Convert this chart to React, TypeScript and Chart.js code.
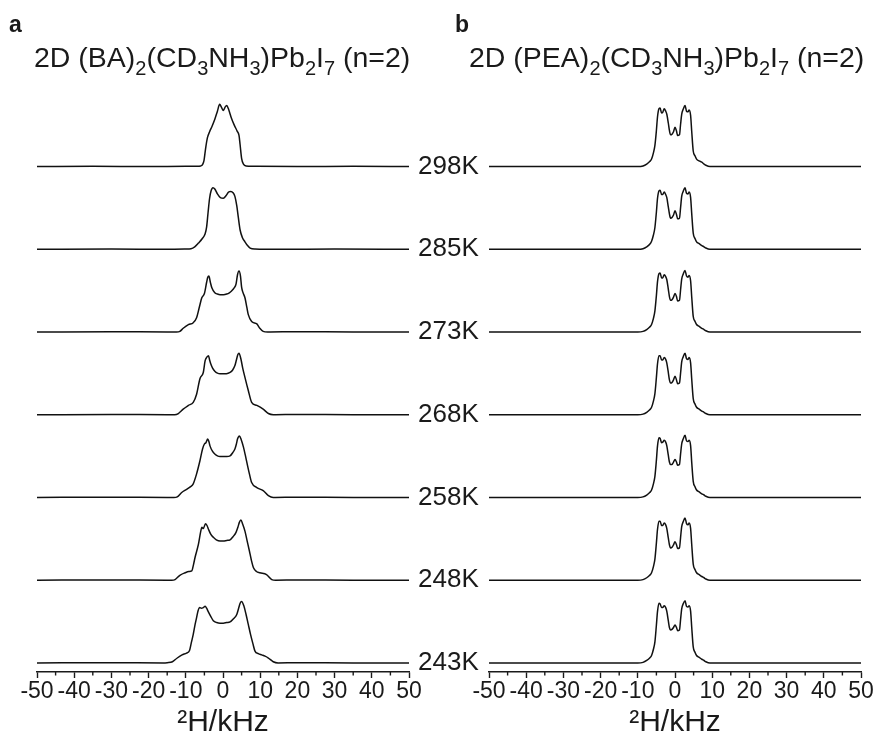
import React, { useEffect, useRef } from 'react';
import { Chart, registerables } from 'chart.js';
Chart.register(...registerables);

type Pt = [number, number];

const temperatures = ['298K', '285K', '273K', '268K', '258K', '248K', '243K'];
const xTickValues = [-50, -40, -30, -20, -10, 0, 10, 20, 30, 40, 50];
const xMinorTicks = [-45, -35, -25, -15, -5, 5, 15, 25, 35, 45];
const xAxisTitle = '²H/kHz';
const STEP = 133;

// Panel a: (BA)2(CD3NH3)Pb2I7
const a298: Pt[] = [[-50,0],[-35,0.5],[-20,0],[-10,0.5],[-7,0.5],[-6,1],[-5.5,3],[-5.1,10],[-4.7,28],[-4.2,46],[-3.6,56],[-3.0,64],[-2.2,76],[-1.5,89],[-0.9,100],[-0.4,95],[0.1,90],[0.6,96],[1.0,98],[1.5,92],[2.2,79],[3.0,67],[3.8,57],[4.3,50],[4.6,35],[5.0,13],[5.5,4],[6.2,1],[8,0.5],[20,0],[35,0.5],[50,0]];
const a285: Pt[] = [[-50,0],[-30,0.5],[-15,0],[-10,0.5],[-8.6,1],[-7.6,4],[-6.6,10],[-5.6,17],[-4.8,25],[-4.4,36],[-4.0,60],[-3.6,82],[-3.2,94],[-2.7,99],[-2.2,97],[-1.5,89],[-0.7,83],[0.1,82],[0.8,86],[1.5,92],[2.1,93],[2.7,91],[3.2,85],[3.7,70],[4.1,52],[4.6,31],[5.2,19],[5.9,12],[6.6,6],[7.3,2],[8.6,0.5],[15,0],[30,0.5],[50,0]];
const a273: Pt[] = [[-50,0],[-30,0.5],[-15,0],[-12.5,0],[-11.6,1],[-10.7,6],[-9.3,12],[-8.0,15],[-7.1,23],[-6.4,39],[-5.7,55],[-5.0,62],[-4.4,80],[-4.1,88],[-3.8,90],[-3.4,80],[-3.0,71],[-2.2,63],[-1.5,61],[-0.8,60],[0.1,60],[1.0,61],[1.7,63],[2.3,66],[3.0,71],[3.5,77],[3.9,92],[4.3,98],[4.7,90],[5.0,72],[5.4,63],[5.9,55],[6.4,40],[6.8,28],[7.7,17],[9.1,13],[9.9,6],[10.8,1],[12,0],[20,0.5],[35,0],[50,0]];
const a268: Pt[] = [[-50,0],[-30,0.5],[-15,0],[-13,0],[-12.0,2],[-10.7,9],[-9.3,15],[-8.0,20],[-7.1,33],[-6.2,58],[-5.3,68],[-4.8,87],[-4.3,93],[-3.9,95],[-3.6,88],[-3.3,82],[-2.8,75],[-2.2,70],[-1.5,67],[-0.8,66],[0.1,66],[0.9,66],[1.9,68],[2.6,72],[3.2,79],[3.6,88],[4.0,97],[4.3,99],[4.8,90],[5.3,75],[5.9,60],[6.4,48],[6.8,39],[7.7,20],[9.1,15],[10.8,9],[12.2,2],[13.5,0],[20,0.5],[35,0],[50,0]];
const a258: Pt[] = [[-50,0],[-30,0.5],[-15,0],[-13.2,0],[-12.3,1],[-11.1,8],[-9.8,13],[-8.8,17],[-8.0,22],[-7.1,38],[-6.2,59],[-5.5,78],[-5.0,86],[-4.6,88],[-4.1,94],[-3.8,90],[-3.5,83],[-2.8,74],[-2.2,70],[-1.5,67],[-0.8,66],[0.1,66],[1.0,66],[1.9,67],[2.6,72],[3.2,78],[3.6,86],[3.9,94],[4.4,99],[4.9,93],[5.5,81],[6.0,68],[6.5,54],[7.1,38],[7.7,24],[9.1,16],[10.8,11],[12.2,3],[13.5,0],[20,0.5],[35,0],[50,0]];
const a248: Pt[] = [[-50,0],[-30,0.5],[-15,0],[-13.8,0],[-12.9,1],[-11.6,8],[-10.2,12],[-9.2,14],[-8.4,15],[-7.9,26],[-7.5,37],[-6.6,58],[-6.0,78],[-5.7,85],[-5.3,83],[-4.7,91],[-4.3,88],[-3.9,82],[-3.3,74],[-2.6,69],[-1.8,65],[-0.8,63],[0.1,63],[1.0,64],[1.9,65],[2.7,70],[3.5,77],[4.0,85],[4.4,93],[4.8,97],[5.3,90],[5.9,79],[6.5,63],[7.1,47],[7.6,33],[8.2,20],[9.0,14],[9.9,12],[11.7,9],[13.1,1],[14.2,0],[20,0.5],[35,0],[50,0]];
const a243: Pt[] = [[-50,0],[-30,0.5],[-16,0],[-15,0.5],[-13.6,2],[-12.3,8],[-11,13],[-9.8,16],[-9.0,20],[-8.5,33],[-8.0,46],[-7.5,62],[-7.1,73],[-6.7,84],[-6.3,89],[-5.8,88],[-5.3,89],[-4.8,91],[-4.4,88],[-4.0,83],[-3.3,75],[-2.6,68],[-1.7,65],[-0.8,64],[0.1,64],[1.0,65],[1.9,66],[2.8,71],[3.7,78],[4.2,88],[4.6,96],[5.0,99],[5.6,92],[6.2,78],[6.8,62],[7.4,46],[8.0,32],[8.6,19],[9.5,15],[10.4,13],[11.3,11],[12.2,8],[13.5,2],[14.8,0],[20,0.5],[35,0],[50,0]];

// Panel b: (PEA)2(CD3NH3)Pb2I7
const b298: Pt[] = [[-50,0],[-20,0],[-10,0],[-8.6,1],[-7.6,4],[-6.8,8],[-6.3,12],[-5.8,22],[-5.4,34],[-5.0,58],[-4.7,80],[-4.3,93],[-4.0,94],[-3.6,86],[-3.3,87],[-2.9,93],[-2.5,89],[-2.2,84],[-1.8,70],[-1.5,58],[-1.2,51],[-0.8,52],[-0.4,56],[0,63],[0.4,57],[0.7,50],[1.2,51],[1.5,68],[1.8,84],[2.2,92],[2.7,98],[3.1,89],[3.5,88],[3.8,91],[4.2,82],[4.5,56],[4.9,25],[5.4,17],[5.8,12],[6.5,9],[7.2,7],[7.8,4],[8.3,2],[9.4,0],[20,0],[50,0]];
const b285: Pt[] = [[-50,0],[-20,0],[-10,0],[-8.6,1],[-7.6,4],[-6.8,8],[-6.3,13],[-5.8,23],[-5.4,35],[-5.0,60],[-4.7,82],[-4.3,94],[-4.0,95],[-3.6,88],[-3.3,88],[-2.9,92],[-2.5,88],[-2.2,83],[-1.8,68],[-1.5,57],[-1.2,50],[-0.8,51],[-0.4,55],[0,62],[0.4,56],[0.7,49],[1.2,50],[1.5,67],[1.8,85],[2.2,93],[2.7,99],[3.1,90],[3.5,89],[3.8,92],[4.2,83],[4.5,57],[4.9,26],[5.4,17],[5.8,12],[6.5,9],[7.2,6],[7.8,4],[8.3,2],[9.4,0],[20,0],[50,0]];
const b273: Pt[] = [[-50,0],[-20,0],[-10,0],[-8.6,1],[-7.6,4],[-6.8,8],[-6.3,12],[-5.8,22],[-5.4,34],[-5.0,59],[-4.7,81],[-4.3,94],[-4.0,95],[-3.6,87],[-3.3,87],[-2.9,92],[-2.5,89],[-2.2,84],[-1.8,69],[-1.5,57],[-1.2,51],[-0.8,52],[-0.4,56],[0,62],[0.4,57],[0.7,50],[1.2,51],[1.5,68],[1.8,85],[2.2,93],[2.7,99],[3.1,90],[3.5,88],[3.8,91],[4.2,82],[4.5,56],[4.9,25],[5.4,17],[5.8,12],[6.5,9],[7.2,6],[7.8,4],[8.3,2],[9.4,0],[20,0],[50,0]];
const b268: Pt[] = [[-50,0],[-20,0],[-10,0],[-8.6,1],[-7.6,4],[-6.8,8],[-6.3,12],[-5.8,22],[-5.4,34],[-5.0,60],[-4.7,82],[-4.3,95],[-4.0,95],[-3.6,88],[-3.3,88],[-2.9,92],[-2.5,89],[-2.2,83],[-1.8,68],[-1.5,56],[-1.2,51],[-0.8,52],[-0.4,56],[0,62],[0.4,56],[0.7,50],[1.2,51],[1.5,67],[1.8,85],[2.2,93],[2.7,99],[3.1,90],[3.5,89],[3.8,92],[4.2,83],[4.5,57],[4.9,26],[5.4,17],[5.8,12],[6.5,9],[7.2,6],[7.8,4],[8.3,2],[9.4,0],[20,0],[50,0]];
const b258: Pt[] = [[-50,0],[-20,0],[-10,0],[-8.6,1],[-7.6,4],[-6.8,8],[-6.3,12],[-5.8,22],[-5.4,34],[-5.0,60],[-4.7,83],[-4.3,96],[-4.0,95],[-3.6,88],[-3.3,89],[-2.9,92],[-2.5,89],[-2.2,83],[-1.8,68],[-1.5,57],[-1.2,53],[-0.8,53],[-0.4,57],[0,61],[0.4,57],[0.7,52],[1.2,53],[1.5,70],[1.8,86],[2.2,94],[2.7,100],[3.1,91],[3.5,90],[3.8,92],[4.2,83],[4.5,56],[4.9,26],[5.4,17],[5.8,12],[6.5,9],[7.2,6],[7.8,4],[8.3,2],[9.4,0],[20,0],[50,0]];
const b248: Pt[] = [[-50,0],[-20,0],[-10,0],[-8.6,1],[-7.6,4],[-6.8,8],[-6.3,12],[-5.8,22],[-5.4,34],[-5.0,60],[-4.7,82],[-4.3,95],[-4.0,95],[-3.6,88],[-3.3,88],[-2.9,92],[-2.5,89],[-2.2,83],[-1.8,68],[-1.5,57],[-1.2,52],[-0.8,53],[-0.4,57],[0,62],[0.4,57],[0.7,51],[1.2,52],[1.5,69],[1.8,86],[2.2,94],[2.7,100],[3.1,91],[3.5,89],[3.8,92],[4.2,83],[4.5,57],[4.9,26],[5.4,17],[5.8,12],[6.5,9],[7.2,6],[7.8,4],[8.3,2],[9.4,0],[20,0],[50,0]];
const b243: Pt[] = [[-50,0],[-20,0],[-10,0],[-8.6,1],[-7.6,4],[-6.8,8],[-6.3,12],[-5.8,22],[-5.4,34],[-5.0,61],[-4.7,83],[-4.3,96],[-4.0,95],[-3.6,89],[-3.3,89],[-2.9,92],[-2.5,89],[-2.2,83],[-1.8,68],[-1.5,57],[-1.2,53],[-0.8,54],[-0.4,57],[0,61],[0.4,57],[0.7,52],[1.2,53],[1.5,70],[1.8,87],[2.2,95],[2.7,100],[3.1,91],[3.5,90],[3.8,92],[4.2,83],[4.5,57],[4.9,26],[5.4,17],[5.8,12],[6.5,9],[7.2,6],[7.8,4],[8.3,2],[9.4,0],[20,0],[50,0]];

const seriesA: Pt[][] = [a298, a285, a273, a268, a258, a248, a243];
const seriesB: Pt[][] = [b298, b285, b273, b268, b258, b248, b243];

const FONT = "'Liberation Sans', Arial, Helvetica, sans-serif";
const INK = '#1a1a1a';

const minorTickPlugin = {
  id: 'minorTicks',
  afterDraw(chart: any) {
    const s = chart.scales.x;
    const ctx = chart.ctx;
    ctx.save();
    ctx.strokeStyle = INK;
    ctx.lineWidth = 1.4;
    for (const v of xMinorTicks) {
      const px = s.getPixelForValue(v);
      ctx.beginPath();
      ctx.moveTo(px, s.top);
      ctx.lineTo(px, s.top + 3.5);
      ctx.stroke();
    }
    ctx.restore();
  },
};

function buildDatasets(series: Pt[][]) {
  return series.map((s, i) => ({
    label: temperatures[i],
    data: s.map(([x, y]) => ({ x, y: y + (series.length - 1 - i) * STEP })),
    borderColor: '#111',
    borderWidth: 1.5,
    pointRadius: 0,
    fill: false,
    tension: 0.3,
    cubicInterpolationMode: 'monotone' as const,
  }));
}

function xScale() {
  return {
    type: 'linear' as const,
    min: -50,
    max: 50,
    afterBuildTicks: (s: any) => {
      s.ticks = xTickValues.map((v) => ({ value: v }));
    },
    afterFit: (s: any) => {
      s.height = 63;
    },
    ticks: {
      autoSkip: false,
      maxRotation: 0,
      padding: 0,
      color: INK,
      font: { family: FONT, size: 23 },
      callback: (v: any) => String(v),
    },
    grid: { display: true, drawOnChartArea: false, drawTicks: true, tickLength: 6, tickWidth: 1.4, tickColor: INK },
    border: { display: true, color: INK, width: 1.4 },
    title: {
      display: true,
      text: xAxisTitle,
      color: INK,
      font: { family: FONT, size: 30, lineHeight: 0.8 },
      padding: { top: 0, bottom: 0 },
    },
  };
}

function makeChart(canvas: HTMLCanvasElement, series: Pt[][], withLabels: boolean, padding: any) {
  const yScale: any = {
    type: 'linear',
    min: -14.5,
    max: 913,
    display: withLabels,
    position: 'right',
    grid: { display: false, drawTicks: false },
    border: { display: false },
  };
  if (withLabels) {
    yScale.afterBuildTicks = (s: any) => {
      s.ticks = temperatures.map((_, i) => ({ value: (temperatures.length - 1 - i) * STEP }));
    };
    yScale.afterFit = (s: any) => {
      s.width = 81;
    };
    yScale.ticks = {
      autoSkip: false,
      padding: 9,
      color: INK,
      font: { family: FONT, size: 26 },
      callback: (v: any) => temperatures[temperatures.length - 1 - Math.round(Number(v) / STEP)],
    };
  }
  return new Chart(canvas, {
    type: 'line',
    data: { datasets: buildDatasets(series) as any },
    options: {
      responsive: false,
      animation: false,
      maintainAspectRatio: false,
      layout: { padding },
      plugins: { legend: { display: false }, tooltip: { enabled: false }, title: { display: false } },
      scales: { x: xScale() as any, y: yScale },
    },
    plugins: [minorTickPlugin],
  });
}

const subStyle: React.CSSProperties = { fontSize: 20, position: 'relative', top: 8 };

export default function App() {
  const refA = useRef<HTMLCanvasElement>(null);
  const refB = useRef<HTMLCanvasElement>(null);

  useEffect(() => {
    const ca = makeChart(refA.current!, seriesA, true, { left: 37, top: 95, right: 0, bottom: 0 });
    const cb = makeChart(refB.current!, seriesB, false, { left: 39, top: 95, right: 14, bottom: 0 });
    return () => {
      ca.destroy();
      cb.destroy();
    };
  }, []);

  const titleStyle: React.CSSProperties = {
    position: 'absolute',
    top: 42,
    fontFamily: FONT,
    fontSize: 28.5,
    lineHeight: '30px',
    color: INK,
    whiteSpace: 'nowrap',
  };
  const letterStyle: React.CSSProperties = {
    position: 'absolute',
    top: 9,
    fontFamily: FONT,
    fontWeight: 'bold',
    fontSize: 23,
    lineHeight: '30px',
    color: INK,
  };

  return (
    <div style={{ position: 'fixed', left: 0, top: 0, width: 875, height: 735, background: '#fff', overflow: 'hidden' }}>
      <canvas ref={refA} width={490} height={735} style={{ position: 'absolute', left: 0, top: 0, display: 'block' }} />
      <canvas ref={refB} width={425} height={735} style={{ position: 'absolute', left: 450, top: 0, display: 'block' }} />
      <div style={{ ...letterStyle, left: 9 }}>a</div>
      <div style={{ ...letterStyle, left: 455 }}>b</div>
      <div style={{ ...titleStyle, left: 34 }}>
        2D (BA)<span style={subStyle}>2</span>(CD<span style={subStyle}>3</span>NH<span style={subStyle}>3</span>)Pb
        <span style={subStyle}>2</span>I<span style={subStyle}>7</span> (n=2)
      </div>
      <div style={{ ...titleStyle, left: 469 }}>
        2D (PEA)<span style={subStyle}>2</span>(CD<span style={subStyle}>3</span>NH<span style={subStyle}>3</span>)Pb
        <span style={subStyle}>2</span>I<span style={subStyle}>7</span> (n=2)
      </div>
    </div>
  );
}
